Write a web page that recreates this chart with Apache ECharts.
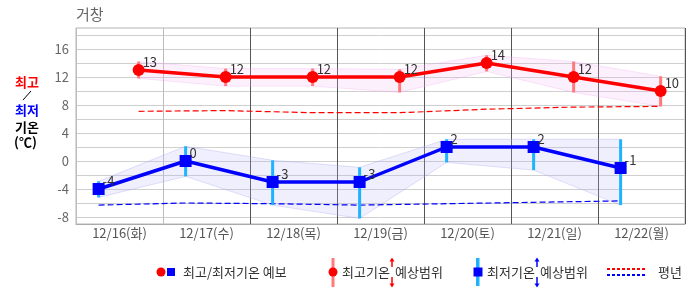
<!DOCTYPE html>
<html><head><meta charset="utf-8">
<script src="https://cdn.jsdelivr.net/npm/echarts@6/dist/echarts.min.js"></script>
<style>html,body{margin:0;padding:0;background:#fff}#c{width:686px;height:295px}</style>
</head><body><div id="c"></div>
<script>
const days = ['12/16(화)','12/17(수)','12/18(목)','12/19(금)','12/20(토)','12/21(일)','12/22(월)'];
const maxTemp = [13, 12, 12, 12, 14, 12, 10];
const minTemp = [-4, 0, -3, -3, 2, 2, -1];
const maxLow  = [11.8, 10.7, 10.7, 9.8, 12.8, 9.8, 7.8];
const maxHigh = [14.2, 13.2, 13.2, 13.1, 15.1, 14.2, 12.1];
const minLow  = [-5.2, -2.2, -6.3, -8.2, -0.2, -1.3, -6.3];
const minHigh = [-2.9, 2.1, 0.1, -0.9, 3.1, 3.1, 3.1];
const normalMax = [7.1, 7.2, 6.9, 6.9, 7.4, 7.7, 7.8];
const normalMin = [-6.3, -6.0, -6.1, -6.3, -6.1, -5.9, -5.7];
const yGridValues = [-8, -6, -4, -2, 0, 2, 4, 6, 8, 10, 12, 14, 16, 18];
const yLabelValues = [-8, -4, 0, 4, 8, 12, 16];

const MAX_POS = 0.72, MIN_POS = 0.26;
const FONT = '"Noto Sans CJK KR", "Noto Sans", sans-serif';

const maxPts = maxTemp.map((v, i) => [i + MAX_POS, v]);
const minPts = minTemp.map((v, i) => [i + MIN_POS, v]);
const maxRange = maxLow.map((v, i) => [i + MAX_POS, v, maxHigh[i]]);
const minRange = minLow.map((v, i) => [i + MIN_POS, v, minHigh[i]]);
const nMax = normalMax.map((v, i) => [i + MAX_POS, v]);
const nMin = normalMin.map((v, i) => [i + MIN_POS, v]);

function bandSeries(data, fill, edge) {
  return {
    type: 'custom', xAxisIndex: 0, data: data, encode: {x: 0, y: [1, 2]}, z: 1, silent: true,
    renderItem: function (params, api) {
      if (params.dataIndexInside !== 0) return null;
      const n = params.dataInsideLength;
      const top = [], bot = [];
      for (let j = 0; j < n; j++) {
        top.push(api.coord([api.value(0, j), api.value(2, j)]));
        bot.push(api.coord([api.value(0, j), api.value(1, j)]));
      }
      return {type: 'polygon', shape: {points: top.concat(bot.reverse())},
        style: {fill: fill, stroke: edge, lineWidth: 1}};
    }
  };
}
function barSeries(data, color) {
  return {
    type: 'custom', xAxisIndex: 0, data: data, encode: {x: 0, y: [1, 2]}, z: 3, silent: true,
    renderItem: function (params, api) {
      const a = api.coord([api.value(0), api.value(1)]);
      const b = api.coord([api.value(0), api.value(2)]);
      return {type: 'line', shape: {x1: a[0], y1: a[1], x2: b[0], y2: b[1]},
        style: {stroke: color, lineWidth: 3}};
    }
  };
}
const lbl = {show: true, position: 'right', distance: 0, offset: [-2, -8], color: '#333', fontSize: 13, fontFamily: FONT};

function arrow(x, y1, y2, color, up) {
  const tip = up ? y1 : y2;
  const d = up ? 4 : -4;
  return [
    {type: 'line', shape: {x1: x, y1: up ? y1 + 3 : y1, x2: x, y2: up ? y2 : y2 - 3}, style: {stroke: color, lineWidth: 1.5}},
    {type: 'polygon', shape: {points: [[x, tip], [x - 2.5, tip + d], [x + 2.5, tip + d]]}, style: {fill: color}}
  ];
}

const graphics = [
  {type: 'text', left: 76, top: 7, style: {text: '거창', fill: '#666', fontSize: 15, fontFamily: FONT}},
  {type: 'text', x: 15, y: 82, style: {text: '최고', fill: '#ff0000', fontSize: 13, fontWeight: 'bold', fontFamily: FONT, verticalAlign: 'middle'}},
  {type: 'line', shape: {x1: 23, y1: 100, x2: 31, y2: 91}, style: {stroke: '#000', lineWidth: 1}},
  {type: 'text', x: 15, y: 110, style: {text: '최저', fill: '#0000ff', fontSize: 13, fontWeight: 'bold', fontFamily: FONT, verticalAlign: 'middle'}},
  {type: 'text', x: 15, y: 127.5, style: {text: '기온', fill: '#000', fontSize: 13, fontWeight: 'bold', fontFamily: FONT, verticalAlign: 'middle'}},
  {type: 'text', x: 14, y: 142, style: {text: '(℃)', fill: '#000', fontSize: 13, fontWeight: 'bold', fontFamily: FONT, verticalAlign: 'middle'}},
  {type: 'circle', shape: {cx: 161, cy: 272, r: 4.5}, style: {fill: '#ff0000'}},
  {type: 'rect', shape: {x: 167, y: 268, width: 8, height: 8}, style: {fill: '#0000ff'}},
  {type: 'text', x: 183, y: 272, style: {text: '최고/최저기온 예보', fill: '#333', fontSize: 13, fontFamily: FONT, verticalAlign: 'middle'}},
  {type: 'rect', shape: {x: 331.5, y: 258, width: 3, height: 29}, style: {fill: '#ff7b7b'}},
  {type: 'circle', shape: {cx: 333, cy: 272, r: 4.5}, style: {fill: '#ff0000'}},
  {type: 'text', x: 342, y: 272, style: {text: '최고기온', fill: '#333', fontSize: 13, fontFamily: FONT, verticalAlign: 'middle'}},
  ...arrow(392, 257.5, 267, '#ff0000', true),
  ...arrow(392, 277, 287.5, '#ff0000', false),
  {type: 'text', x: 395, y: 272, style: {text: '예상범위', fill: '#333', fontSize: 13, fontFamily: FONT, verticalAlign: 'middle'}},
  {type: 'rect', shape: {x: 476, y: 258, width: 3.5, height: 28}, style: {fill: '#1fb2ff'}},
  {type: 'rect', shape: {x: 473.5, y: 267.5, width: 9, height: 9}, style: {fill: '#0000ff'}},
  {type: 'text', x: 487, y: 272, style: {text: '최저기온', fill: '#333', fontSize: 13, fontFamily: FONT, verticalAlign: 'middle'}},
  ...arrow(537, 257.5, 267, '#0000ff', true),
  ...arrow(537, 277, 287.5, '#0000ff', false),
  {type: 'text', x: 540, y: 272, style: {text: '예상범위', fill: '#333', fontSize: 13, fontFamily: FONT, verticalAlign: 'middle'}},
  {type: 'line', shape: {x1: 607, y1: 269, x2: 647, y2: 269}, style: {stroke: '#ff0000', lineWidth: 2, lineDash: [3, 2]}},
  {type: 'line', shape: {x1: 607, y1: 275, x2: 647, y2: 275}, style: {stroke: '#0000ff', lineWidth: 2, lineDash: [3, 2]}},
  {type: 'text', x: 658, y: 272, style: {text: '평년', fill: '#333', fontSize: 13, fontFamily: FONT, verticalAlign: 'middle'}}
];

const chart = echarts.init(document.getElementById('c'), null, {renderer: 'canvas'});
chart.setOption({
  animation: false,
  grid: {left: 76, right: 1, top: 28, bottom: 71, show: true, borderColor: '#b4b4b4', borderWidth: 1, backgroundColor: 'transparent'},
  xAxis: [
    {type: 'value', min: 0, max: 7, interval: 1, position: 'bottom',
     axisLine: {show: false}, axisTick: {show: false}, axisLabel: {show: false},
     splitLine: {show: true, lineStyle: {color: ['#bdbdbd', '#bdbdbd', '#555', '#555', '#555', '#555', '#555', '#555'], width: 1}}},
    {type: 'category', data: days, boundaryGap: true, position: 'bottom',
     axisLine: {show: true, lineStyle: {color: '#aaa'}}, axisTick: {show: false}, splitLine: {show: false},
     axisLabel: {color: '#555', fontSize: 13, margin: 3, fontFamily: FONT}}
  ],
  yAxis: {type: 'value', min: -9, max: 19,
    axisLine: {show: false}, axisTick: {show: false, customValues: yGridValues},
    axisLabel: {customValues: yLabelValues, color: '#666', fontSize: 13, margin: 7, fontFamily: FONT},
    splitLine: {show: true, lineStyle: {color: '#cfcfcf', width: 1}}},
  graphic: graphics,
  series: [
    bandSeries(maxRange, 'rgba(245,180,245,0.2)', 'rgba(240,170,240,0.3)'),
    bandSeries(minRange, 'rgba(180,180,245,0.22)', 'rgba(170,170,240,0.35)'),
    {type: 'line', data: nMax, xAxisIndex: 0, symbol: 'none', z: 2, silent: true,
     lineStyle: {color: '#ff0000', width: 1.2, type: [6, 3]}},
    {type: 'line', data: nMin, xAxisIndex: 0, symbol: 'none', z: 2, silent: true,
     lineStyle: {color: '#0000ff', width: 1.2, type: [6, 3]}},
    barSeries(maxRange, '#ff7b7b'),
    barSeries(minRange, '#1fb2ff'),
    {type: 'line', data: maxPts, xAxisIndex: 0, z: 4, symbol: 'circle', symbolSize: 12,
     lineStyle: {color: '#ff0000', width: 3.5}, itemStyle: {color: '#ff0000'}, label: lbl},
    {type: 'line', data: minPts, xAxisIndex: 0, z: 4, symbol: 'rect', symbolSize: 12,
     lineStyle: {color: '#0000ff', width: 3.5}, itemStyle: {color: '#0000ff'}, label: lbl}
  ]
});
</script></body></html>
